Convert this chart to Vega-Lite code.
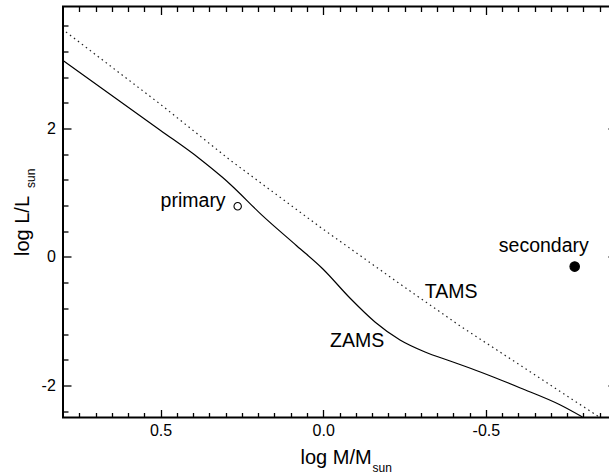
{
  "$schema": "https://vega.github.io/schema/vega-lite/v6.json",
  "width": 553,
  "height": 411,
  "autosize": "none",
  "padding": {"left": 63, "top": 6.5, "right": 0, "bottom": 57},
  "background": "white",
  "config": {
    "view": {"stroke": "black", "strokeWidth": 2},
    "font": "Liberation Sans",
    "axis": {
      "domain": false,
      "grid": false,
      "tickColor": "black",
      "tickWidth": 1.3,
      "labelColor": "black",
      "labelFont": "Liberation Sans",
      "labelFontSize": 16,
      "titleFont": "Liberation Sans",
      "titleFontWeight": "normal",
      "titleColor": "black",
      "labelOverlap": false,
      "labelFlush": false
    }
  },
  "datasets": {
    "zams": [
      {"logM": 0.803, "logL": 3.07},
      {"logM": 0.5, "logL": 1.97},
      {"logM": 0.38, "logL": 1.53},
      {"logM": 0.31, "logL": 1.24},
      {"logM": 0.287, "logL": 1.137},
      {"logM": 0.186, "logL": 0.639},
      {"logM": 0.081, "logL": 0.171},
      {"logM": 0.001, "logL": -0.187},
      {"logM": -0.082, "logL": -0.639},
      {"logM": -0.159, "logL": -1.012},
      {"logM": -0.236, "logL": -1.293},
      {"logM": -0.313, "logL": -1.48},
      {"logM": -0.39, "logL": -1.62},
      {"logM": -0.483, "logL": -1.791},
      {"logM": -0.606, "logL": -2.04},
      {"logM": -0.729, "logL": -2.305},
      {"logM": -0.797, "logL": -2.492}
    ],
    "tams": [
      {"logM": 0.803, "logL": 3.551},
      {"logM": 0.5, "logL": 2.375},
      {"logM": 0.287, "logL": 1.511},
      {"logM": 0.01, "logL": 0.467},
      {"logM": -0.236, "logL": -0.421},
      {"logM": -0.421, "logL": -1.075},
      {"logM": -0.637, "logL": -1.791},
      {"logM": -0.847, "logL": -2.488}
    ],
    "stars": [
      {"star": "primary", "logM": 0.263, "logL": 0.79},
      {"star": "secondary", "logM": -0.773, "logL": -0.15}
    ],
    "labels": [
      {"text": "primary", "logM": 0.4, "logL": 0.779},
      {"text": "secondary", "logM": -0.678, "logL": 0.083},
      {"text": "ZAMS", "logM": -0.104, "logL": -1.397},
      {"text": "TAMS", "logM": -0.393, "logL": -0.643}
    ]
  },
  "layer": [
    {
      "data": {"name": "zams"},
      "mark": {"type": "line", "color": "black", "strokeWidth": 1.2, "clip": true, "interpolate": "monotone"},
      "encoding": {
        "x": {
          "field": "logM", "type": "quantitative",
          "scale": {"domain": [-0.9, 0.8], "reverse": true, "nice": false, "zero": false},
          "sort": null,
          "axis": {
            "orient": "bottom",
            "values": [0.5, 0, -0.5],
            "labelExpr": "replace(format(datum.value, '.1f'), '\u2212', '-')",
            "tickSize": -8,
            "labelPadding": 12.6,
            "title": "log M/M",
            "titleFontSize": 20,
            "titleAlign": "left",
            "titleBaseline": "alphabetic",
            "titleX": 237,
            "titleY": 46
          }
        },
        "y": {
          "field": "logL", "type": "quantitative",
          "scale": {"domain": [-2.5, 3.9], "nice": false, "zero": false},
          "axis": {
            "orient": "left",
            "values": [-2, 0, 2],
            "labelExpr": "replace(format(datum.value, 'd'), '\u2212', '-')",
            "tickSize": -8,
            "labelPadding": 15.7,
            "title": "log L/L",
            "titleFontSize": 20,
            "titleAngle": 270,
            "titleAlign": "left",
            "titleBaseline": "alphabetic",
            "titleX": -35,
            "titleY": 249
          }
        }
      }
    },
    {
      "data": {"name": "tams"},
      "mark": {"type": "line", "color": "#222", "strokeWidth": 1.2, "strokeDash": [1.5, 3.5], "clip": true},
      "encoding": {
        "x": {
          "field": "logM", "type": "quantitative", "sort": null,
          "axis": {
            "orient": "bottom",
            "values": [0.75, 0.7, 0.65, 0.6, 0.55, 0.45, 0.4, 0.35, 0.3, 0.25, 0.2, 0.15, 0.1, 0.05, -0.05, -0.1, -0.15, -0.2, -0.25, -0.3, -0.35, -0.4, -0.45, -0.55, -0.6, -0.65, -0.7, -0.75, -0.8, -0.85],
            "tickSize": -5,
            "labels": false,
            "title": "sun",
            "titleFontSize": 12,
            "titleAlign": "left",
            "titleBaseline": "alphabetic",
            "titleX": 309,
            "titleY": 54
          }
        },
        "y": {
          "field": "logL", "type": "quantitative",
          "axis": {
            "orient": "left",
            "values": [-2.4, -1.6, -1.2, -0.8, -0.4, 0.4, 0.8, 1.2, 1.6, 2.4, 2.8, 3.2, 3.6],
            "tickSize": -5,
            "labels": false,
            "title": "sun",
            "titleFontSize": 12,
            "titleAngle": 270,
            "titleAlign": "left",
            "titleBaseline": "alphabetic",
            "titleX": -29,
            "titleY": 181
          }
        }
      }
    },
    {
      "data": {"name": "stars"},
      "mark": {"type": "point", "shape": "circle", "filled": true, "stroke": "black", "strokeWidth": 1.1, "opacity": 1},
      "encoding": {
        "x": {
          "field": "logM", "type": "quantitative",
          "axis": {"orient": "top", "values": [0.5, 0, -0.5], "tickSize": -8, "labels": false, "title": null}
        },
        "y": {
          "field": "logL", "type": "quantitative",
          "axis": {"orient": "right", "values": [-2, 0, 2], "tickSize": -8, "labels": false, "title": null}
        },
        "fill": {"field": "star", "type": "nominal", "scale": {"domain": ["primary", "secondary"], "range": ["white", "black"]}, "legend": null},
        "size": {"field": "star", "type": "nominal", "scale": {"domain": ["primary", "secondary"], "range": [55, 90]}, "legend": null}
      }
    },
    {
      "data": {"name": "labels"},
      "mark": {"type": "text", "font": "Liberation Sans", "fontSize": 19.5, "align": "center", "baseline": "alphabetic", "color": "black"},
      "encoding": {
        "x": {
          "field": "logM", "type": "quantitative",
          "axis": {
            "orient": "top",
            "values": [0.75, 0.7, 0.65, 0.6, 0.55, 0.45, 0.4, 0.35, 0.3, 0.25, 0.2, 0.15, 0.1, 0.05, -0.05, -0.1, -0.15, -0.2, -0.25, -0.3, -0.35, -0.4, -0.45, -0.55, -0.6, -0.65, -0.7, -0.75, -0.8, -0.85],
            "tickSize": -5, "labels": false, "title": null
          }
        },
        "y": {
          "field": "logL", "type": "quantitative",
          "axis": {
            "orient": "right",
            "values": [-2.4, -1.6, -1.2, -0.8, -0.4, 0.4, 0.8, 1.2, 1.6, 2.4, 2.8, 3.2, 3.6],
            "tickSize": -5, "labels": false, "title": null
          }
        },
        "text": {"field": "text", "type": "nominal"}
      }
    }
  ],
  "resolve": {"axis": {"x": "independent", "y": "independent"}}
}
